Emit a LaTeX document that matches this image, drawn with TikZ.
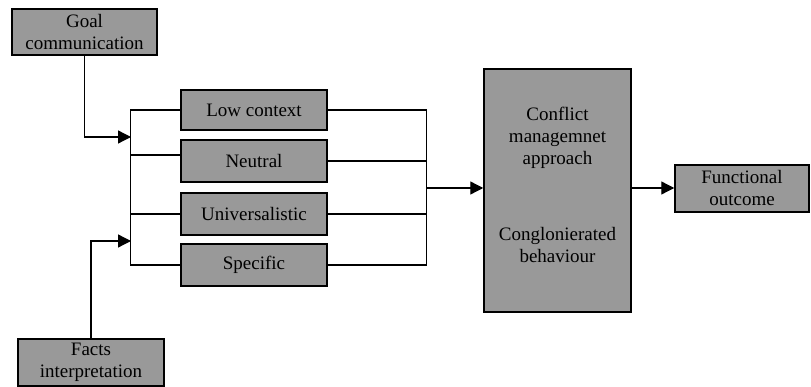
\documentclass[tikz,border=0pt]{standalone}
\usepackage{fontspec}
\setmainfont{Liberation Serif}
\usetikzlibrary{calc, arrows.meta, positioning}

\tikzset{
  boxfont/.style={font=\rmfamily\fontsize{19}{22}\selectfont},
  greybox/.style={draw=black, line width=1.5pt, fill=black!40, inner sep=0pt, align=center, boxfont},
  link/.style={line width=1.3pt, black},
  linkarrow/.style={link, -{Triangle[length=13pt,width=13pt]}}
}

\begin{document}
\begin{tikzpicture}[x=1pt, y=-1pt]

\useasboundingbox (0,0) rectangle (811,387);

% Draw the input boxes
\node[greybox, minimum width=145pt, minimum height=46pt] (goal) at (84.5,32) {Goal\\communication};
\node[greybox, minimum width=146pt, minimum height=47pt] (facts) at (91,362.5) {Facts\\interpretation};

% Draw the middle boxes
\node[greybox, minimum width=146pt, minimum height=40pt] (low) at (254,110) {Low context};
\node[greybox, minimum width=146pt, minimum height=42pt] (neutral) at (254,161) {Neutral};
\node[greybox, minimum width=146pt, minimum height=42pt] (univ) at (254,214) {Universalistic};
\node[greybox, minimum width=146pt, minimum height=42pt] (spec) at (254,265) {Specific};

% Draw the big box and the outcome
\node[greybox, minimum width=147pt, minimum height=243pt] (conflict) at (557.5,190.5) {};
\node[boxfont, align=center, anchor=north, inner sep=0pt] (approach) at (557.5,107) {Conflict\\managemnet\\approach};
\node[boxfont, align=center, anchor=north, inner sep=0pt] (behav) at (557.5,227) {Conglonierated\\behaviour};
\node[greybox, minimum width=134pt, minimum height=47pt] (func) at (742,188.5) {Functional\\outcome};

% Add the bus coordinates
\coordinate (goalin) at (131,137);
\coordinate (factsin) at (131,241);
\coordinate (busR) at (426,188);

% Left bus
\draw[link] (low.west) -- ++(-50,0) |- (spec.west);
\draw[link] ([yshift=6pt]neutral.west) -- ++(-50,0);
\draw[link] (univ.west) -- ++(-50,0);
\draw[linkarrow] (goal.south) |- (goalin);
\draw[linkarrow] (facts.north) |- (factsin);

% Right bus
\draw[link] (low.east) -- ++(99,0) |- (spec.east);
\draw[link] (neutral.east) -- ++(99,0);
\draw[link] (univ.east) -- ++(99,0);
\draw[linkarrow] (busR) -- (busR -| conflict.west);
\draw[linkarrow] (busR -| conflict.east) -- (busR -| func.west);

\end{tikzpicture}
\end{document}
